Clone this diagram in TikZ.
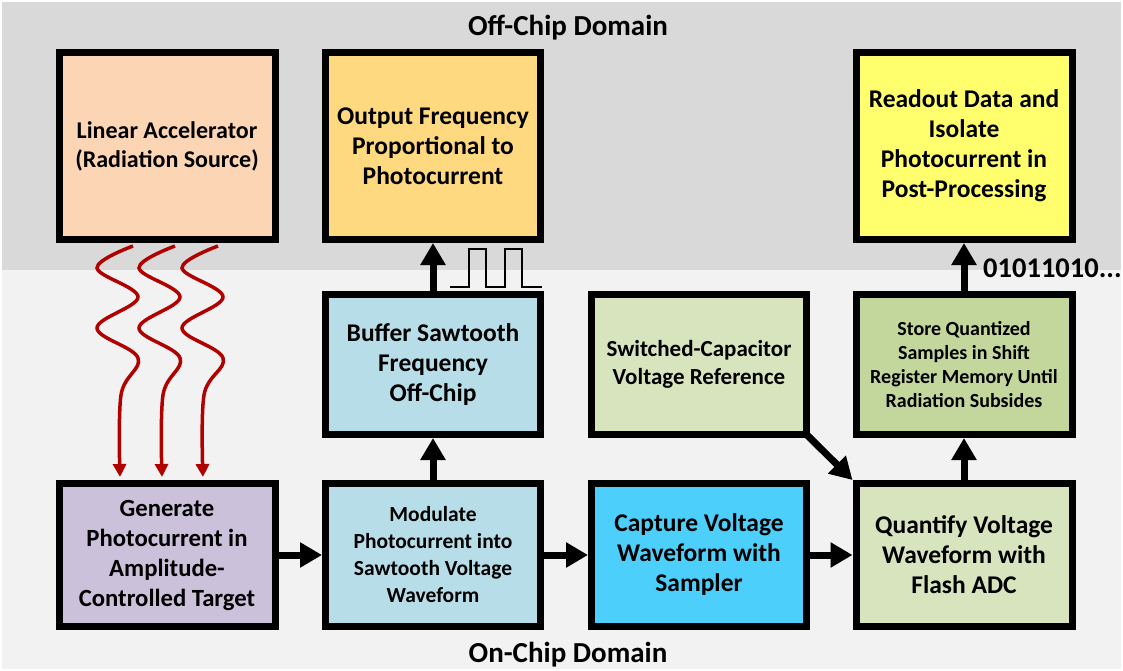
\documentclass[tikz,border=0pt]{standalone}
\usepackage{fontspec}
\setmainfont{Carlito}
\usetikzlibrary{arrows.meta}
\definecolor{offbg}{HTML}{D9D9D9}
\definecolor{onbg}{HTML}{F2F2F2}
\definecolor{cpeach}{HTML}{FCD5B5}
\definecolor{cgold}{HTML}{FFD97F}
\definecolor{cyell}{HTML}{FFFF6E}
\definecolor{caqua}{HTML}{B7DEE8}
\definecolor{colive}{HTML}{D7E4BD}
\definecolor{colive2}{HTML}{C3D69B}
\definecolor{cpurp}{HTML}{CCC1DA}
\definecolor{ccyan}{HTML}{4DCFFC}
\definecolor{wavered}{HTML}{B00000}
\begin{document}
\begin{tikzpicture}[x=1pt,y=-1pt,
  box/.style={draw=black, line width=7pt, inner sep=0pt, minimum width=216pt, align=center,
              font=\bfseries\fontsize{25.5}{30}\selectfont},
  tallbox/.style={box, minimum height=187pt},
  midbox/.style={box, minimum height=140pt},
  lowbox/.style={box, minimum height=143pt},
  flow/.style={line width=7pt, -{Triangle[width=24pt,length=22pt]}},
  wavy/.style={line width=3.5pt, draw=wavered, -{Triangle[width=13pt,length=13pt]}},
  domlbl/.style={font=\bfseries\fontsize{29}{32}\selectfont, inner sep=0pt}
]
\useasboundingbox (0,0) rectangle (1123,671);
\fill[white] (0,0) rectangle (1123,671);
\fill[offbg] (2,2) rectangle (1121,270);
\fill[onbg] (2,270) rectangle (1121,669);

\node[domlbl] (offlbl) at (568,28) {Off-Chip Domain};
\node[domlbl] (onlbl) at (568,655) {On-Chip Domain};

% top row
\node[tallbox, fill=cpeach, font=\bfseries\fontsize{24}{29}\selectfont] (lin) at (167,146) {Linear Accelerator\\(Radiation Source)};
\node[tallbox, fill=cgold, minimum width=215pt] (out) at (433,146) {Output Frequency\\Proportional to\\Photocurrent};
\node[tallbox, fill=cyell] (read) at (964,146) {Readout Data and\\Isolate\\Photocurrent in\\Post-Processing};

% middle row
\node[midbox, fill=caqua, minimum width=215pt] (buf) at (433,364.5) {Buffer Sawtooth\\Frequency\\Off-Chip};
\node[midbox, fill=colive, minimum width=215pt, font=\bfseries\fontsize{23}{28}\selectfont] (sw) at (699,364.5) {Switched-Capacitor\\Voltage Reference};
\node[midbox, fill=colive2, font=\bfseries\fontsize{20}{24}\selectfont] (store) at (964,364.5) {Store Quantized\\Samples in Shift\\Register Memory Until\\Radiation Subsides};

% bottom row
\node[lowbox, fill=cpurp, font=\bfseries\fontsize{24.7}{30}\selectfont] (gen) at (167,555) {Generate\\Photocurrent in\\Amplitude-\\Controlled Target};
\node[lowbox, fill=caqua, minimum width=215pt, font=\bfseries\fontsize{21.5}{27}\selectfont] (mod) at (433,555) {Modulate\\Photocurrent into\\Sawtooth Voltage\\Waveform};
\node[lowbox, fill=ccyan, minimum width=215pt] (cap) at (699,555) {Capture Voltage\\Waveform with\\Sampler};
\node[lowbox, fill=colive] (quant) at (964,555) {Quantify Voltage\\Waveform with\\Flash ADC};

% flow arrows
\draw[flow] (gen.east) -- (mod.west);
\draw[flow] (mod.east) -- (cap.west);
\draw[flow] (cap.east) -- (quant.west);
\draw[flow] (mod.north) -- (buf.south);
\draw[flow] (buf.north) -- (out.south);
\draw[flow] (quant.north) -- (store.south);
\draw[flow] (store.north) -- (read.south);
\draw[flow] ([shift={(-6,-6)}]sw.south east) -- (quant.north west);

% square wave
\draw[line width=2.5pt] (450,287) -| (469,249) -| (486,287) -| (505,249) -| (522,287) -- (542,287);

% bit stream label
\node[font=\bfseries\fontsize{28.5}{32}\selectfont, anchor=west, inner sep=0pt] (bits) at (983,268) {01011010...};

% radiation waves
\foreach \dx/\ex in {0/0,42/42,85/83}{
  \draw[wavy] plot[smooth, tension=0.6] coordinates
    {(133+\dx,246) (97+\dx,268) (138+\dx,297) (97+\dx,328) (138+\dx,358) (121+\ex,395) (120+\ex,477)};
}
\end{tikzpicture}
\end{document}
